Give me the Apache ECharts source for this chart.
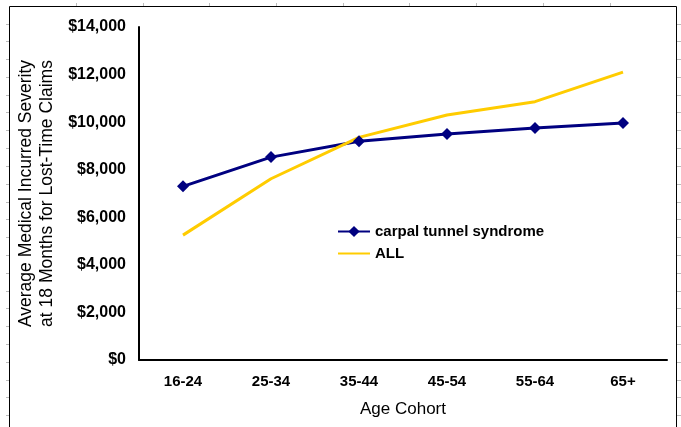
<!DOCTYPE html>
<html>
<head>
<meta charset="utf-8">
<script src="https://cdn.jsdelivr.net/npm/echarts@6/dist/echarts.min.js"></script>
<style>
  html, body { margin: 0; padding: 0; background: #fff; }
  #chart { width: 681px; height: 427px; }
</style>
</head>
<body>
<div id="chart"></div>
<script>
// age groups on the x axis
const ageCohorts = ['16-24', '25-34', '35-44', '45-54', '55-64', '65+']
// average medical incurred severity
const carpalTunnel = [7300, 8530, 9200, 9500, 9750, 9960]
const allClaims = [5250, 7620, 9360, 10300, 10860, 12100]

const font = 'Liberation Sans, Arial, sans-serif'

// worksheet frame and the faint cell lines peeking out around it
const frame = [{
  type: 'polyline',
  shape: { points: [[9.5, 427], [9.5, 6.5], [676.5, 6.5], [676.5, 427]] },
  style: { stroke: '#000', lineWidth: 1, fill: null },
  silent: true
}]
for (let y = 23.5; y < 427; y += 17.8) {
  frame.push({ type: 'line', silent: true, shape: { x1: 6, y1: Math.round(y) + 0.5, x2: 9, y2: Math.round(y) + 0.5 }, style: { stroke: '#bbb', lineWidth: 1 } })
  frame.push({ type: 'line', silent: true, shape: { x1: 677, y1: Math.round(y) + 0.5, x2: 681, y2: Math.round(y) + 0.5 }, style: { stroke: '#bbb', lineWidth: 1 } })
}
for (let x = 76; x < 676; x += 66.7) {
  frame.push({ type: 'line', silent: true, shape: { x1: Math.round(x) + 0.5, y1: 3, x2: Math.round(x) + 0.5, y2: 6 }, style: { stroke: '#bbb', lineWidth: 1 } })
}

const myChart = echarts.init(document.getElementById('chart'))
myChart.setOption({
  animation: false,
  backgroundColor: '#fff',
  textStyle: { fontFamily: font },
  grid: { left: 139, right: 14, top: 27, bottom: 67 },
  legend: {
    orient: 'vertical',
    left: 332,
    top: 219,
    itemWidth: 32,
    itemHeight: 14,
    itemGap: 7,
    textStyle: { fontFamily: font, fontSize: 15, fontWeight: 'bold', color: '#000' },
    data: [
      'carpal tunnel syndrome',
      { name: 'ALL', itemStyle: { opacity: 0 } }
    ]
  },
  xAxis: {
    type: 'category',
    data: ageCohorts,
    name: 'Age Cohort',
    nameLocation: 'middle',
    nameGap: 41,
    nameTextStyle: { fontFamily: font, fontSize: 17, color: '#000' },
    axisLine: { lineStyle: { color: '#000', width: 2 } },
    axisTick: { show: false },
    axisLabel: { margin: 14, fontFamily: font, fontSize: 15, fontWeight: 'bold', color: '#000' }
  },
  yAxis: {
    type: 'value',
    min: 0,
    max: 14000,
    interval: 2000,
    name: 'Average Medical Incurred Severity\nat 18 Months for Lost-Time Claims',
    nameLocation: 'middle',
    nameRotate: 90,
    nameGap: 76,
    nameTextStyle: { fontFamily: font, fontSize: 17.5, color: '#000', lineHeight: 21 },
    axisLine: { show: true, lineStyle: { color: '#000', width: 2 } },
    axisTick: { show: false },
    splitLine: { show: false },
    axisLabel: {
      margin: 13,
      fontFamily: font,
      fontSize: 16,
      fontWeight: 'bold',
      color: '#000',
      formatter: v => '$' + v.toLocaleString('en-US')
    }
  },
  series: [
    {
      name: 'carpal tunnel syndrome',
      type: 'line',
      data: carpalTunnel,
      symbol: 'diamond',
      symbolSize: 12,
      lineStyle: { color: '#000080', width: 3 },
      itemStyle: { color: '#000080' }
    },
    {
      name: 'ALL',
      type: 'line',
      data: allClaims,
      symbol: 'none',
      lineStyle: { color: '#FFCC00', width: 3 },
      itemStyle: { color: '#FFCC00' }
    }
  ],
  graphic: frame
})
</script>
</body>
</html>
